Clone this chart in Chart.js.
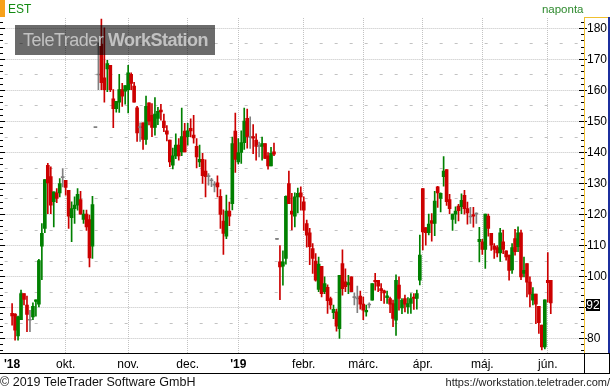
<!DOCTYPE html>
<html>
<head>
<meta charset="utf-8">
<script src="https://cdn.jsdelivr.net/npm/chart.js@4.4.1/dist/chart.umd.min.js"></script>
<style>
  html, body { margin: 0; padding: 0; background: #fff; }
  #wrap { position: relative; width: 611px; height: 392px; overflow: hidden; background: #fff; }
  #c { position: absolute; left: 0; top: 0; }
  .t { position: absolute; white-space: nowrap; font-family: 'Liberation Sans', Arial, sans-serif; line-height: 1; }
</style>
</head>
<body>
<div id="wrap">
  <canvas id="c" width="611" height="392"></canvas>
  <div style="position:absolute;left:0;top:0;width:5px;height:17px;background:#f7a11a"></div>
  <div class="t" style="left:8px;top:2.5px;font-size:12px;color:#128a12">EST</div>
  <div class="t" style="right:27.5px;top:4.3px;font-size:11.5px;color:#2e8a2e">naponta</div>
  <div style="position:absolute;left:15px;top:25px;width:200px;height:30px;background:rgba(0,0,0,0.58)">
    <div class="t" style="left:8px;top:6px;font-size:18px;letter-spacing:-0.5px;color:#c2c2c2">TeleTrader <b>WorkStation</b></div>
  </div>
  <div class="t" style="left:0;top:375.5px;font-size:12.5px;color:#111">© 2019 TeleTrader Software GmbH</div>
  <div class="t" style="right:1px;top:377.2px;font-size:11px;color:#222">https://workstation.teletrader.com/</div>
</div>
<script>
// ---- data (daily OHLC, EST) ----
const opens = [
  88.1, 87.9, 80.8, 86.1, 94.5, 90.8, 85.9, 87.0, 92.0, 91.1,
  109.8, 115.5, 135.9, 132.2, 124.1, 127.0, 127.0, 131.9, 131.0, 127.8,
  119.0, 121.9, 123.0, 124.8, 118.4, 120.1, 118.4, 109.8, 148.0, 165.0,
  175.0, 164.1, 167.0, 168.1, 157.3, 154.1, 156.2, 160.3, 159.8, 160.3,
  165.2, 161.4, 154.4, 148.0, 149.6, 144.2, 156.0, 152.0, 148.1, 151.0,
  153.7, 150.1, 147.0, 144.0, 135.9, 138.9, 142.4, 140.2, 146.9, 145.1,
  147.8, 145.6, 142.0, 137.0, 137.8, 134.0, 132.2, 130.9, 129.5, 130.2,
  125.9, 117.9, 113.0, 121.1, 123.5, 146.9, 137.0, 140.0, 143.2, 151.0,
  144.8, 145.1, 144.0, 142.0, 142.0, 142.9, 138.9, 135.7, 140.2, 112.0,
  104.7, 103.3, 105.8, 130.0, 121.1, 119.5, 125.7, 127.0, 124.1, 117.1,
  114.1, 109.0, 105.0, 95.8, 103.3, 95.1, 96.5, 92.9, 88.3, 88.6,
  83.2, 104.2, 98.3, 97.3, 99.9, 93.2, 92.8, 93.7, 91.1, 88.6,
  90.8, 92.4, 98.8, 98.8, 96.1, 95.4, 93.2, 92.9, 91.3, 85.9,
  97.2, 89.9, 92.9, 90.2, 91.3, 93.4, 92.9, 98.8, 128.4, 115.8,
  114.1, 118.0, 117.1, 128.9, 125.2, 132.2, 134.5, 124.8, 118.4, 120.1,
  122.7, 122.5, 126.2, 121.9, 119.2, 120.0, 120.1, 111.2, 111.2, 108.7,
  119.5, 113.9, 109.8, 109.3, 107.6, 111.2, 108.3, 106.9, 102.1, 112.2,
  109.6, 114.1, 101.0, 104.2, 98.2, 92.4, 94.3, 90.4, 84.3, 77.3,
  98.8, 98.8
];
const highs = [
  91.3, 88.0, 87.2, 95.6, 94.5, 93.7, 89.1, 91.5, 92.5, 105.5,
  117.1, 131.3, 136.5, 135.4, 127.3, 128.4, 131.6, 134.8, 131.0, 127.8,
  124.1, 125.7, 128.4, 127.5, 121.4, 121.4, 119.8, 125.9, 148.0, 175.4,
  183.0, 180.2, 169.7, 168.1, 160.3, 156.5, 165.2, 162.3, 161.6, 168.1,
  165.7, 162.6, 154.9, 149.6, 149.6, 158.2, 156.0, 155.8, 157.7, 154.6,
  155.5, 152.4, 148.7, 144.0, 141.4, 146.0, 144.5, 154.3, 149.4, 149.4,
  150.9, 152.0, 144.5, 142.4, 139.7, 137.6, 133.2, 131.7, 130.6, 132.5,
  128.0, 121.5, 126.3, 124.0, 145.0, 152.7, 144.5, 147.0, 154.3, 154.0,
  151.5, 149.0, 146.0, 143.4, 145.0, 142.9, 140.0, 141.7, 143.0, 112.0,
  110.0, 108.3, 126.0, 134.0, 126.8, 127.0, 128.5, 128.9, 125.7, 118.2,
  115.5, 110.6, 107.4, 106.3, 103.3, 99.9, 97.3, 93.4, 90.8, 89.5,
  100.4, 108.6, 102.5, 100.4, 99.9, 94.7, 96.9, 95.3, 93.4, 90.8,
  91.5, 97.7, 101.0, 98.8, 97.7, 95.6, 95.3, 93.4, 92.4, 100.5,
  99.9, 92.9, 94.0, 93.2, 94.5, 94.5, 95.6, 113.4, 128.4, 115.8,
  120.1, 120.3, 127.5, 129.1, 127.0, 138.7, 134.5, 126.5, 120.1, 122.5,
  123.3, 126.7, 127.8, 124.0, 122.3, 122.3, 120.5, 115.9, 112.0, 120.1,
  120.1, 113.9, 110.6, 110.0, 115.5, 115.0, 108.3, 106.9, 110.6, 115.2,
  116.0, 115.0, 106.3, 104.2, 99.9, 96.4, 94.3, 90.4, 84.3, 92.5,
  107.7, 98.8
];
const lows = [
  84.3, 79.5, 79.5, 86.1, 90.8, 82.2, 82.2, 86.1, 87.2, 90.2,
  99.0, 114.1, 120.3, 120.3, 116.0, 123.8, 125.7, 128.9, 126.2, 115.5,
  111.2, 117.1, 121.4, 120.1, 117.1, 114.9, 103.1, 105.8, 148.0, 160.3,
  160.3, 156.2, 159.6, 159.6, 148.0, 153.0, 152.9, 154.9, 155.6, 152.8,
  160.3, 156.2, 143.6, 143.6, 141.0, 142.6, 148.9, 145.1, 145.6, 149.0,
  150.4, 146.7, 143.7, 135.4, 134.7, 138.0, 137.5, 139.0, 140.2, 142.4,
  145.0, 143.0, 135.0, 135.4, 130.0, 125.7, 129.5, 129.0, 127.3, 125.7,
  115.5, 107.1, 112.2, 116.4, 121.5, 133.6, 136.3, 136.5, 141.0, 141.4,
  141.3, 139.6, 137.5, 138.6, 137.5, 138.0, 134.6, 135.7, 139.0, 112.0,
  92.5, 97.2, 104.0, 123.5, 115.0, 116.0, 120.5, 121.4, 114.9, 109.5,
  103.8, 101.0, 98.5, 95.1, 93.4, 94.5, 88.1, 89.5, 86.4, 82.4,
  80.0, 94.0, 95.1, 94.5, 95.1, 90.8, 88.3, 89.5, 86.1, 87.2,
  89.9, 92.4, 95.6, 95.1, 92.2, 91.3, 91.3, 88.3, 83.8, 81.0,
  89.1, 88.0, 88.6, 88.1, 88.1, 89.4, 89.5, 97.3, 108.6, 110.1,
  113.4, 111.4, 113.2, 122.3, 120.8, 129.1, 122.9, 120.3, 114.9, 117.1,
  117.9, 120.3, 120.1, 116.9, 117.1, 115.9, 117.1, 104.7, 107.1, 102.6,
  113.0, 108.4, 105.8, 106.3, 104.9, 107.4, 105.3, 98.8, 101.0, 106.9,
  108.0, 99.0, 99.9, 93.4, 90.2, 90.8, 84.8, 81.6, 76.3, 76.6,
  91.7, 88.0
];
const closes = [
  87.3, 82.7, 87.0, 94.5, 92.6, 87.8, 85.9, 90.4, 92.5, 105.1,
  113.9, 131.3, 130.2, 123.0, 127.3, 125.2, 130.0, 131.9, 128.7, 119.5,
  121.9, 123.0, 126.5, 120.1, 120.1, 116.0, 106.0, 123.2, 148.0, 165.0,
  162.5, 160.3, 168.7, 160.3, 154.1, 156.5, 160.3, 158.2, 161.6, 165.7,
  162.3, 156.2, 146.3, 148.0, 144.2, 154.9, 150.1, 148.1, 152.4, 153.3,
  153.1, 148.0, 145.9, 137.0, 138.9, 142.4, 138.9, 145.1, 140.2, 147.0,
  147.0, 144.7, 138.6, 137.8, 132.5, 132.2, 132.2, 130.9, 129.5, 128.9,
  120.0, 113.9, 121.1, 119.5, 142.9, 137.8, 140.0, 143.2, 150.1, 145.1,
  144.8, 144.6, 142.0, 142.0, 142.9, 138.1, 135.7, 139.7, 139.5, 112.0,
  103.1, 104.7, 125.9, 123.5, 120.1, 125.7, 126.8, 125.7, 121.4, 113.3,
  109.6, 105.8, 98.8, 104.0, 94.5, 97.7, 92.2, 90.8, 89.4, 84.0,
  100.4, 96.1, 96.7, 98.0, 95.1, 93.2, 92.8, 91.1, 89.1, 89.1,
  90.8, 97.7, 98.3, 96.9, 95.4, 94.7, 93.8, 91.1, 86.5, 98.8,
  92.9, 92.4, 91.1, 91.3, 92.9, 92.9, 94.5, 106.9, 114.4, 114.1,
  116.9, 117.1, 124.3, 127.0, 126.8, 134.0, 124.1, 121.9, 120.1, 121.1,
  121.2, 124.6, 121.9, 120.5, 119.2, 119.5, 120.1, 112.0, 108.7, 120.1,
  115.5, 110.1, 108.7, 107.6, 114.1, 108.7, 106.3, 102.0, 109.3, 108.0,
  114.1, 99.9, 102.0, 98.2, 94.3, 94.3, 91.1, 85.1, 77.3, 92.5,
  98.0, 91.5
];
const monthTickIndex  = [0, 18, 39, 59, 76, 98, 118, 138, 158, 180];
const monthTickLabels = ["'18", "okt.", "nov.", "dec.", "'19", "febr.", "márc.", "ápr.", "máj.", "jún."];
const yearTick        = [true, false, false, false, true, false, false, false, false, false];
const priceTicks = [80, 90, 100, 110, 120, 130, 140, 150, 160, 170, 180];

// ---- styling ----
const UP = '#008000', DOWN = '#cc0000', FLAT = '#808080';
const FONT = "'Liberation Sans', Arial, sans-serif";
const candleColor = opens.map((o, i) => closes[i] > o ? UP : (closes[i] < o ? DOWN : FLAT));
const PX_PER_UNIT = 3.1;
const yMin = 80 - 14.5 / PX_PER_UNIT;
const yMax = yMin + 335 / PX_PER_UNIT;
const xMin = -2.5, xMax = -2.5 + 584 / 3;

function hline(ctx, x1, x2, y) { ctx.beginPath(); ctx.moveTo(x1, y); ctx.lineTo(x2, y); ctx.stroke(); }
function vline(ctx, x, y1, y2) { ctx.beginPath(); ctx.moveTo(x, y1); ctx.lineTo(x, y2); ctx.stroke(); }

const deco = {
  id: 'deco',
  beforeDatasetsDraw(chart) {
    const { ctx, chartArea: a, scales: { x, y } } = chart;
    ctx.save();
    ctx.lineWidth = 1;
    ctx.strokeStyle = '#c2c2c2';
    ctx.setLineDash([1, 1]);
    priceTicks.forEach(v => hline(ctx, a.left, a.right, Math.floor(y.getPixelForValue(v)) + 0.5));
    monthTickIndex.forEach((k, i) => { if (i > 0) vline(ctx, Math.floor(x.getPixelForValue(k)) + 0.5, a.top, a.bottom); });
    ctx.setLineDash([3, 12]);
    priceTicks.forEach(v => { if (v + 5 < yMax) hline(ctx, a.left, a.right, Math.floor(y.getPixelForValue(v + 5)) + 0.5); });
    ctx.restore();
  },
  afterDraw(chart) {
    const { ctx, chartArea: a, scales: { y } } = chart;
    const W = 611;
    ctx.save();
    ctx.setLineDash([]);
    ctx.lineWidth = 1;
    ctx.strokeStyle = '#000';
    for (let v = 76; v <= 182; v += 2) {
      const py = Math.floor(y.getPixelForValue(v)) + 0.5;
      const major = v % 10 === 0;
      hline(ctx, 0, major ? 5 : 3, py);
      hline(ctx, a.right - (major ? 5 : 3), a.right + (major ? 3 : 1), py);
    }
    ctx.strokeStyle = '#f0c030';
    vline(ctx, a.right + 0.5, a.top - 1, a.bottom);
    hline(ctx, a.right, W - 2, a.top - 0.5);
    ctx.strokeStyle = '#1c2f9e';
    ctx.lineWidth = 2;
    vline(ctx, W - 2, a.top - 1, a.bottom);
    ctx.lineWidth = 1;
    ctx.strokeStyle = '#000';
    hline(ctx, 0, W - 1, a.bottom + 0.5);
    hline(ctx, 0, W - 1, a.bottom + 20.5);
    vline(ctx, a.right + 0.5, a.bottom, a.bottom + 21);
    vline(ctx, W - 1.5, a.bottom, a.bottom + 21);
    const last = closes[closes.length - 1];
    const ly = y.getPixelForValue(last);
    ctx.fillStyle = '#000';
    ctx.fillRect(a.right + 2, Math.round(ly) - 4, 14, 12);
    ctx.fillStyle = '#fff';
    ctx.font = '12px ' + FONT;
    ctx.textAlign = 'center';
    ctx.textBaseline = 'middle';
    ctx.fillText(String(Math.round(last)), a.right + 9, Math.round(ly) + 2.5);
    ctx.restore();
  }
};

new Chart(document.getElementById('c'), {
  type: 'bar',
  data: {
    datasets: [
      {
        label: 'body',
        data: opens.map((o, i) => ({ x: i, y: [o, closes[i]] })),
        backgroundColor: candleColor,
        barThickness: 3,
        minBarLength: 1,
        grouped: false,
        borderWidth: 0,
        order: 0
      },
      {
        label: 'wick',
        data: highs.map((h, i) => ({ x: i, y: [lows[i], h] })),
        backgroundColor: candleColor,
        barThickness: 1,
        grouped: false,
        borderWidth: 0,
        order: 1
      }
    ]
  },
  options: {
    responsive: false,
    devicePixelRatio: 1,
    animation: false,
    layout: { padding: { left: 0, top: 18, right: 2, bottom: 19 } },
    plugins: { legend: { display: false }, tooltip: { enabled: false }, title: { display: false } },
    scales: {
      x: {
        type: 'linear',
        min: xMin, max: xMax,
        offset: false,
        grid: { display: false, offset: false, drawTicks: false },
        border: { display: false },
        afterBuildTicks: s => { s.ticks = monthTickIndex.map(v => ({ value: v })); },
        afterFit: s => { s.height = 20; },
        ticks: {
          autoSkip: false, maxRotation: 0, minRotation: 0, padding: 4,
          color: '#000',
          font: c => ({ family: FONT, size: 12, weight: yearTick[c.index] ? 'bold' : 'normal' }),
          callback: (v, i) => monthTickLabels[i]
        }
      },
      y: {
        position: 'right',
        min: yMin, max: yMax,
        grid: { display: false, drawTicks: false },
        border: { display: false },
        afterBuildTicks: s => { s.ticks = priceTicks.map(v => ({ value: v })); },
        afterFit: s => { s.width = 25; },
        ticks: {
          padding: 3, color: '#000',
          font: { family: FONT, size: 12 },
          callback: v => String(v)
        }
      }
    }
  },
  plugins: [deco]
});
</script>
</body>
</html>
